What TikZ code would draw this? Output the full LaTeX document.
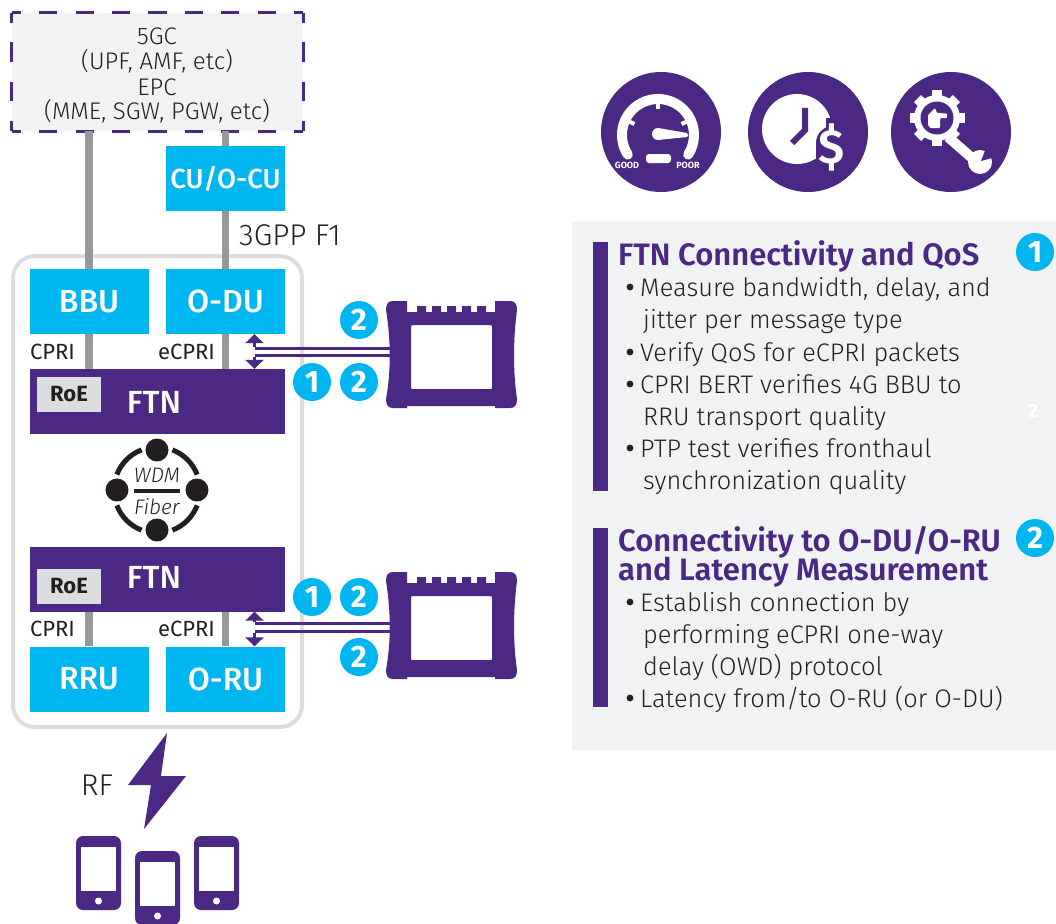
\documentclass[tikz,border=0pt]{standalone}
\usepackage{fontspec}
\setmainfont{Fira Sans}
\newfontfamily\lightfont{Fira Sans Light}
\newfontfamily\medfont{Fira Sans Medium}
\newfontfamily\semifont{Fira Sans SemiBold}
\usetikzlibrary{arrows.meta}
\definecolor{vpurple}{HTML}{4B2884}
\definecolor{vcyan}{HTML}{00B6F0}
\definecolor{vpanel}{HTML}{F1F2F4}
\definecolor{vline}{HTML}{97989B}
\definecolor{vframe}{HTML}{DCDDDF}
\definecolor{vink}{HTML}{231F20}
\newcommand{\fs}[1]{\fontsize{#1}{#1}\selectfont}
\tikzset{
  x=1pt,y=-1pt,
  block/.style={fill=vcyan,text=white,inner sep=0pt,font=\medfont\fs{32},minimum width=119pt,minimum height=65pt},
  ftnbox/.style={fill=vpurple,minimum width=255pt,minimum height=65pt,inner sep=0pt},
  roebox/.style={fill=vframe,text=vink,font=\fs{22}\bfseries,minimum width=64pt,minimum height=35pt,inner sep=0pt},
  fiberline/.style={draw=vline,line width=7.5pt},
  lbl/.style={text=vink,inner sep=0pt,font=\fs{22}},
  toplbl/.style={text=vink,inner sep=0pt,font=\lightfont\fs{24}},
  badge/.style={circle,fill=vcyan,text=white,font=\fs{31}\bfseries,minimum size=38pt,inner sep=0pt},
  testlink/.style={draw=vpurple,line width=3pt},
  testarrow/.style={draw=vpurple,line width=3pt,-{Triangle[length=9pt,width=18pt]}},
  dashtop/.style={draw=vpurple,line width=3pt,dash pattern=on 18.2pt off 18.2pt,dash phase=9.1pt},
  dashside/.style={draw=vpurple,line width=3pt,dash pattern=on 19.7pt off 19.7pt,dash phase=9.8pt},
  itemtext/.style={anchor=base west,text=vink,inner sep=0pt,font=\lightfont\fs{25.4}},
  headtext/.style={anchor=base west,text=vpurple,inner sep=0pt,font=\semifont\fs{31}},
  dotmark/.style={fill=vink},
  tester/.pic={
    \fill[vpurple,even odd rule]
      (7,0) .. controls (2,0) and (0,3) .. (0,9)
      .. controls (5,40) and (5,70) .. (0,98)
      .. controls (0,104) and (2,107) .. (7,107) -- (21,107) -- (21,105) -- (109,105) -- (109,107) -- (124,107)
      .. controls (129,107) and (131,104) .. (131,98)
      .. controls (127,70) and (127,40) .. (131,9)
      .. controls (131,3) and (129,0) .. (124,0) -- (109,0) -- (109,11) -- (100,11) -- (100,5) -- (91,5) -- (91,11)
      -- (85,11) -- (85,5) -- (76,5) -- (76,11) -- (70,11) -- (70,5) -- (61,5) -- (61,11) -- (55,11) -- (55,5) -- (46,5) -- (46,11)
      -- (40,11) -- (40,5) -- (31,5) -- (31,11) -- (21,11) -- (21,0) -- cycle
      (25,26) .. controls (25,25) and (25,24) .. (27,24) -- (104,24) .. controls (106,24) and (106,25) .. (106,26)
      -- (106,86) .. controls (106,88) and (106,88) .. (104,88) -- (27,88) .. controls (25,88) and (25,88) .. (25,86) -- cycle;
  },
  phone/.pic={
    \fill[vpurple,rounded corners=7pt] (0,0) rectangle (45,74);
    \fill[white] (5,11) rectangle (40,55);
    \fill[white] (22.5,65) circle[radius=3.5];
  },
}
\begin{document}
\begin{tikzpicture}
\useasboundingbox (0,0) rectangle (1056,923);
% right panel
\fill[vpanel] (572,221) rectangle (1056,750);
\fill[vpurple] (593,242) rectangle (608,491);
\fill[vpurple] (593,528) rectangle (608,707);
% frame
\draw[vframe,line width=4pt,rounded corners=22pt] (13,256) rectangle (302,727);
% core
\node[fill=vpanel,minimum width=291pt,minimum height=118pt,inner sep=0pt] (core) at (157.5,72) {};
\draw[dashtop] (core.north west) -- (core.north east);
\draw[dashtop] (core.south west) -- (core.south east);
\draw[dashside] (core.north west) -- (core.south west);
\draw[dashside] (core.north east) -- (core.south east);
\node[toplbl] (t5gc) at (157,36) {5GC};
\node[toplbl] (tupf) at (157,61) {(UPF, AMF, etc)};
\node[toplbl] (tepc) at (157,87) {EPC};
\node[toplbl] (tmme) at (157,111) {(MME, SGW, PGW, etc)};
% blocks
\node[block,font=\medfont\fs{27.5}] (cu) at (225.5,178.5) {CU/O-CU};
\node[block] (bbu) at (89,301.5) {BBU};
\node[block] (odu) at (225.5,301.5) {O-DU};
\node[ftnbox] (ftn1) at (157.5,401.5) {};
\node[ftnbox] (ftn2) at (157.5,579) {};
\node[block] (rru) at (89,679) {RRU};
\node[block] (oru) at (225.5,679) {O-RU};
\node[text=white,inner sep=0pt,font=\medfont\fs{32}] (ftn1t) at (154,402) {FTN};
\node[text=white,inner sep=0pt,font=\medfont\fs{32}] (ftn2t) at (154,577) {FTN};
\node[roebox] (roe1) at (69,394) {RoE};
\node[roebox] (roe2) at (69,586) {RoE};
% fibers
\draw[fiberline] (bbu.north) -- (bbu.north |- core.south);
\draw[fiberline] (cu.north) -- (cu.north |- core.south);
\draw[fiberline] (odu.north) -- (cu.south);
\draw[fiberline] (bbu.south) -- (bbu.south |- ftn1.north);
\draw[fiberline] (odu.south) -- (odu.south |- ftn1.north);
\draw[fiberline] (rru.north) -- (rru.north |- ftn2.south);
\draw[fiberline] (oru.north) -- (oru.north |- ftn2.south);
% labels
\node[lbl,font=\lightfont\fs{30}] (f1) at (290,235) {3GPP F1};
\node[lbl] (cpri1) at (52.5,352) {CPRI};
\node[lbl] (ecpri1) at (186.5,352) {eCPRI};
\node[lbl] (cpri2) at (52.5,629) {CPRI};
\node[lbl] (ecpri2) at (186.5,629) {eCPRI};
% WDM
\foreach \a in {0,90,180,270}{
  \draw[vink,line width=5pt] ([shift={(157,490)}]\a+21:43) arc[start angle=\a+21,end angle=\a+69,radius=43];
  \fill[vink] ([shift={(157,490)}]\a:40) circle[radius=11.5];
}
\node[lbl,font=\lightfont\itshape\fs{21}] (wdm) at (157,475) {WDM};
\node[lbl,font=\lightfont\itshape\fs{21}] (fib) at (157,507) {Fiber};
\draw[vink,line width=3.5pt] (134,491) coordinate (wa) -- (180,491) coordinate (wb);
% testers
\pic at (386,301) {tester};
\pic at (386,572) {tester};
\coordinate (t1a) at (390,348.5);
\coordinate (t1b) at (390,355);
\coordinate (t2a) at (390,623.5);
\coordinate (t2b) at (390,631);
\coordinate (j1) at (254.5,348.5);
\coordinate (j2) at (254.5,355);
\coordinate (j3) at (254.5,623.5);
\coordinate (j4) at (254.5,631);
\draw[testlink] (t1a) -- (j1);
\draw[testlink] (t1b) -- (j2);
\draw[testlink] (t2a) -- (j3);
\draw[testlink] (t2b) -- (j4);
\draw[testarrow] ([yshift=1.5pt]j1) -- (j1 |- odu.south);
\draw[testarrow] ([yshift=-1.5pt]j2) -- (j2 |- ftn1.north);
\draw[testarrow] ([yshift=1.5pt]j3) -- (j3 |- ftn2.south);
\draw[testarrow] ([yshift=-1.5pt]j4) -- (j4 |- oru.north);
% badges
\node[badge] (b1) at (359,320) {2};
\node[badge] (b2) at (312,382) {1};
\node[badge] (b3) at (359,382) {2};
\node[badge] (b4) at (312,597) {1};
\node[badge] (b5) at (359,597) {2};
\node[badge] (b6) at (359,657) {2};
\node[badge] (b7) at (1035,252) {1};
\node[badge] (b8) at (1035,538) {2};
\node[inner sep=0pt,text=white,font=\fs{19}\bfseries] (ghost) at (1033,411) {2};
% RF
\node[lbl,font=\lightfont\fs{30}] (rf) at (97,785) {RF};
\fill[vpurple] (167,733) -- (128,785) -- (151,785) -- (144,829) -- (186,776) -- (161,776) -- cycle;
\pic at (76,836) {phone};
\pic at (135,851) {phone};
\pic at (194,836) {phone};
% gauge icon
\fill[vpurple] (661,132) circle[radius=60];
\draw[white,line width=10pt,line cap=round] (627.8,154.6) arc[start angle=147,end angle=393,radius=36];
\foreach \a in {205,270,335}{\draw[white,line width=4pt] ([shift={(658,135)}]\a:34) -- ([shift={(658,135)}]\a:26);}
\fill[white] (658,128) -- (687,133) .. controls (688.5,135) and (688.5,136) .. (687,137) -- (658,140) arc[start angle=90,end angle=270,radius=6];
\fill[white,rounded corners=3pt] (646,154) rectangle (671,163);
\node[inner sep=0pt,text=white,font=\fs{9}\bfseries] (good) at (627,165) {GOOD};
\node[inner sep=0pt,text=white,font=\fs{9}\bfseries] (poor) at (688,165) {POOR};
% clock icon
\fill[vpurple] (808,132) circle[radius=60];
\fill[white] (797,129) circle[radius=35];
\fill[vpurple] (826,118) rectangle (850,175);
\fill[vpurple] (833,143) circle[radius=17];
\fill[vpurple] (816,143) rectangle (840,175);
\draw[vpurple,line width=6pt] (805,108) -- (805,130) -- (792,143);
\node[inner sep=0pt,text=white,font=\semifont\fs{48}] (dollar) at (832,147) {\$};
% gear icon
\fill[vpurple] (951,132) circle[radius=60];
\foreach \a in {0,45,...,315}{\draw[white,line width=10pt] ([shift={(937,118)}]\a:18) -- ([shift={(937,118)}]\a:27.5);}
\fill[white] (937,118) circle[radius=23];
\fill[vpurple] (937,118) circle[radius=16.5];
\fill[white,rounded corners=1pt] (928,115) -- (935,108) -- (937,113) -- (947,113.5) -- (947,118) -- (940,118) -- (940,128) -- (930,128) -- (928,125) -- cycle;
\draw[white,line width=10pt] (948,137) -- (972,158);
\fill[white] (980,162) circle[radius=12];
\fill[vpurple] (981,161) -- (986,148) -- (996,157) -- cycle;
% text
\node[headtext] (h1) at (618,265) {FTN Connectivity and QoS};
\foreach \y in {287,352,384,448,602,698}{\fill[dotmark] (630,\y) circle[radius=3.4];}
\node[itemtext] (i1) at (640,296) {Measure bandwidth, delay, and};
\node[itemtext] (i2) at (643,328) {jitter per message type};
\node[itemtext] (i3) at (640,361) {Verify QoS for eCPRI packets};
\node[itemtext] (i4) at (640,393) {CPRI BERT verifies 4G BBU to};
\node[itemtext] (i5) at (643,425) {RRU transport quality};
\node[itemtext] (i6) at (640,457) {PTP test verifies fronthaul};
\node[itemtext] (i7) at (643,489) {synchronization quality};
\node[headtext] (h2) at (618,551) {Connectivity to O-DU/O-RU};
\node[headtext] (h3) at (618,580) {and Latency Measurement};
\node[itemtext] (j1t) at (640,611) {Establish connection by};
\node[itemtext] (j2t) at (643,643) {performing eCPRI one-way};
\node[itemtext] (j3t) at (643,675) {delay (OWD) protocol};
\node[itemtext] (j4t) at (640,707) {Latency from/to O-RU (or O-DU)};
\end{tikzpicture}
\end{document}
